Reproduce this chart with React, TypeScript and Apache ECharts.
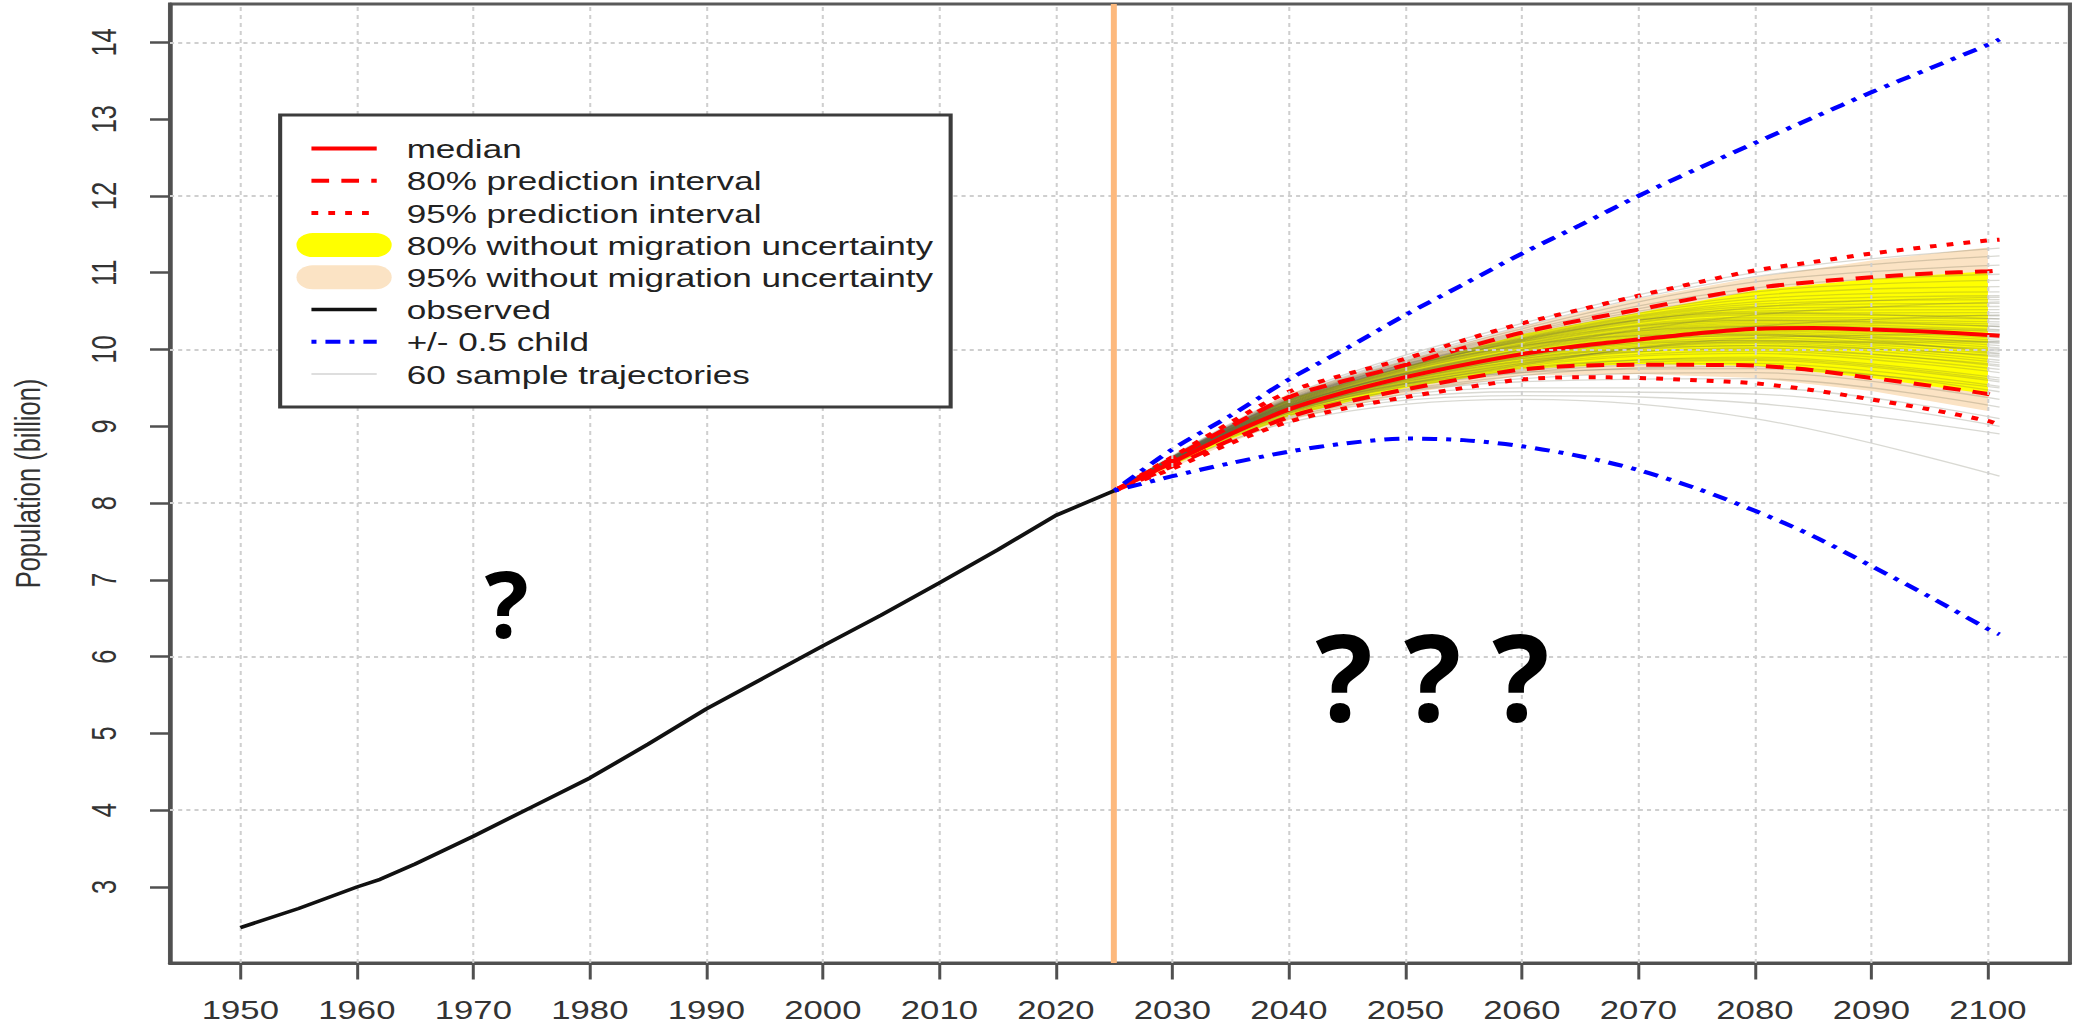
import React, { useEffect, useRef } from "react";
import * as echarts from "echarts";

// ---------- layout constants ----------
const STRETCH = 1.36; // the reference image is stretched horizontally
const PAGE_W = 2075;
const PAGE_H = 1030;
const CHART_W = Math.round(PAGE_W / STRETCH);
const FONT = "Liberation Sans";

// ---------- axes ----------
const X_MIN = 1943.96;
const X_MAX = 2107.04;
const Y_MIN = 2.01;
const Y_MAX = 14.5;
const X_TICKS = [1950, 1960, 1970, 1980, 1990, 2000, 2010, 2020, 2030, 2040, 2050, 2060, 2070, 2080, 2090, 2100];
const Y_TICKS = [3, 4, 5, 6, 7, 8, 9, 10, 11, 12, 13, 14];
const H_GRID = [4, 6, 8, 10, 12, 14];
const SPLIT_YEAR = 2025;

// ---------- observed ----------
const OBS_YEARS = [1950, 1955, 1960, 1962, 1965, 1970, 1975, 1980, 1985, 1990, 1995, 2000, 2005, 2010, 2015, 2020, 2025];
const OBS_VALUES = [2.47, 2.72, 3.0, 3.1, 3.3, 3.66, 4.04, 4.42, 4.86, 5.32, 5.73, 6.14, 6.54, 6.96, 7.39, 7.84, 8.16];

// ---------- projections ----------
const PROJ_YEARS = [2025, 2030, 2035, 2040, 2045, 2050, 2055, 2060, 2065, 2070, 2075, 2080, 2085, 2090, 2095, 2100, 2101];
const MEDIAN = [8.16, 8.53, 8.9, 9.22, 9.45, 9.64, 9.8, 9.94, 10.05, 10.13, 10.21, 10.27, 10.28, 10.26, 10.23, 10.19, 10.18];
const PI80_UP = [8.16, 8.58, 9.0, 9.38, 9.6, 9.8, 10.02, 10.22, 10.38, 10.52, 10.67, 10.8, 10.88, 10.94, 10.99, 11.02, 11.03];
const PI80_LO = [8.16, 8.48, 8.82, 9.12, 9.32, 9.48, 9.62, 9.74, 9.79, 9.8, 9.8, 9.79, 9.73, 9.63, 9.53, 9.42, 9.38];
const PI95_UP = [8.16, 8.6, 9.05, 9.45, 9.68, 9.88, 10.12, 10.34, 10.52, 10.7, 10.87, 11.03, 11.14, 11.25, 11.34, 11.42, 11.43];
const PI95_LO = [8.16, 8.45, 8.78, 9.06, 9.24, 9.38, 9.5, 9.61, 9.64, 9.63, 9.6, 9.56, 9.47, 9.35, 9.22, 9.07, 9.02];
const CHILD_UP = [8.16, 8.7, 9.14, 9.61, 10.02, 10.45, 10.85, 11.25, 11.62, 12.0, 12.35, 12.69, 13.02, 13.35, 13.66, 13.97, 14.04];
const CHILD_LO = [8.16, 8.35, 8.52, 8.67, 8.78, 8.84, 8.82, 8.74, 8.61, 8.43, 8.19, 7.9, 7.57, 7.18, 6.78, 6.36, 6.29];

// bands without migration uncertainty
const BAND_YEARS = [2025, 2030, 2035, 2040, 2050, 2060, 2070, 2080, 2090, 2100];
const Y80_UP = [8.16, 8.57, 8.98, 9.36, 9.78, 10.2, 10.48, 10.77, 10.92, 11.02];
const Y80_LO = [8.16, 8.49, 8.83, 9.13, 9.5, 9.75, 9.81, 9.79, 9.63, 9.42];
const B95_UP = [8.16, 8.59, 9.02, 9.43, 9.86, 10.3, 10.66, 10.94, 11.16, 11.33];
const B95_LO = [8.16, 8.46, 8.79, 9.08, 9.42, 9.66, 9.68, 9.63, 9.46, 9.2];

// 60 sample trajectories: values at 2040, 2060, 2080, 2101 (all start at 2025)
const TRAJ_YEARS = [2025, 2040, 2060, 2080, 2101];
const TRAJ_START = 8.16;
const TRAJECTORIES = [
  [9.05, 9.35, 9.1, 8.35], [9.1, 9.4, 9.3, 8.9], [9.12, 9.45, 9.42, 9.0], [9.14, 9.5, 9.5, 9.1],
  [9.15, 9.58, 9.62, 9.25], [9.17, 9.62, 9.7, 9.35], [9.17, 9.66, 9.78, 9.45], [9.19, 9.7, 9.82, 9.52],
  [9.19, 9.72, 9.86, 9.58], [9.2, 9.74, 9.9, 9.63], [9.2, 9.78, 9.95, 9.7], [9.21, 9.8, 9.98, 9.74],
  [9.21, 9.82, 10.02, 9.78], [9.22, 9.84, 10.05, 9.83], [9.22, 9.86, 10.08, 9.86], [9.23, 9.88, 10.1, 9.9],
  [9.23, 9.9, 10.12, 9.94], [9.24, 9.91, 10.15, 9.98], [9.24, 9.92, 10.18, 10.02], [9.25, 9.94, 10.2, 10.05],
  [9.25, 9.95, 10.22, 10.08], [9.26, 9.96, 10.24, 10.12], [9.26, 9.98, 10.26, 10.15], [9.27, 9.99, 10.28, 10.18],
  [9.27, 10.0, 10.3, 10.2], [9.28, 10.02, 10.32, 10.23], [9.28, 10.03, 10.34, 10.26], [9.29, 10.04, 10.36, 10.3],
  [9.29, 10.06, 10.38, 10.33], [9.3, 10.07, 10.4, 10.36], [9.3, 10.08, 10.42, 10.4], [9.31, 10.1, 10.45, 10.44],
  [9.31, 10.11, 10.47, 10.48], [9.32, 10.12, 10.5, 10.52], [9.32, 10.13, 10.53, 10.56], [9.33, 10.14, 10.56, 10.6],
  [9.33, 10.15, 10.59, 10.65], [9.34, 10.16, 10.62, 10.7], [9.34, 10.18, 10.66, 10.75], [9.35, 10.2, 10.7, 10.82],
  [9.35, 10.22, 10.75, 10.9], [9.36, 10.24, 10.8, 10.98], [9.37, 10.27, 10.88, 11.1], [9.38, 10.3, 10.95, 11.22],
  [9.4, 10.34, 11.0, 11.32], [9.21, 9.76, 9.88, 9.6], [9.24, 9.85, 10.0, 9.8], [9.27, 9.96, 10.18, 10.1],
  [9.29, 10.05, 10.3, 10.25], [9.31, 10.1, 10.38, 10.3], [9.2, 9.9, 10.3, 10.45], [9.33, 10.05, 10.2, 9.95],
  [9.18, 9.8, 10.15, 10.2], [9.26, 10.0, 10.45, 10.62], [9.22, 9.7, 9.75, 9.5], [9.3, 10.12, 10.55, 10.68],
  [9.25, 9.88, 10.05, 9.92], [9.28, 9.93, 10.12, 10.0], [9.34, 10.14, 10.48, 10.4], [9.23, 9.82, 10.1, 10.1],
];

// ---------- legend ----------
const LEGEND_LABELS = [
  "median",
  "80% prediction interval",
  "95% prediction interval",
  "80% without migration uncertainty",
  "95% without migration uncertainty",
  "observed",
  "+/- 0.5 child",
  "60 sample trajectories",
];

// ---------- styles ----------
const RED = "#ff0000";
const BLUE = "#0000ff";
const YELLOW = "#ffff00";
const BEIGE = "#fbe3c4";
const ORANGE = "#fdb97d";
const GRID_COLOR = "#cfcfcf";
const TRAJ_COLOR = "rgba(95,95,70,0.24)";
const DASHED = [13, 9];
const DOTTED = [5, 7.4];
const DOTDASH = [3.7, 6.6, 11, 6.6];

const pairs = (xs: number[], ys: number[]) => xs.map((x, i) => [x, ys[i]]);

function bandSeries(name: string, up: number[], lo: number[], color: string, z: number) {
  return {
    name,
    type: "custom",
    z,
    silent: true,
    clip: true,
    data: [[BAND_YEARS[0], up[0]]],
    renderItem: (_params: any, api: any) => {
      const pts: number[][] = [];
      for (let i = 0; i < BAND_YEARS.length; i++) pts.push(api.coord([BAND_YEARS[i], up[i]]));
      for (let i = BAND_YEARS.length - 1; i >= 0; i--) pts.push(api.coord([BAND_YEARS[i], lo[i]]));
      return { type: "polygon", shape: { points: pts }, style: { fill: color } };
    },
  };
}

function lineSeries(name: string, xs: number[], ys: number[], color: string, width: number, type: any, z: number, smooth: any) {
  return {
    name,
    type: "line",
    z,
    silent: true,
    smooth,
    symbol: "none",
    data: pairs(xs, ys),
    lineStyle: { color, width, type, cap: "butt" },
  };
}

function buildLegend() {
  const L = { x: 206, y: 115, w: 493, h: 292 };
  const row0 = 148.5;
  const dy = 32.2;
  const lx1 = 229;
  const lx2 = 277;
  const els: any[] = [
    { type: "rect", z: 100, shape: { x: L.x, y: L.y, width: L.w, height: L.h }, style: { fill: "#ffffff", stroke: "#3c3c3c", lineWidth: 3 } },
  ];
  const line = (i: number, stroke: string, lineWidth: number, lineDash?: number[]) => ({
    type: "line",
    z: 101,
    shape: { x1: lx1, y1: row0 + i * dy, x2: lx2, y2: row0 + i * dy },
    style: { stroke, lineWidth, lineDash: lineDash || null, lineCap: "butt" },
  });
  const pill = (i: number, fill: string) => ({
    type: "rect",
    z: 101,
    shape: { x: 218, y: row0 + i * dy - 12, width: 70, height: 24, r: 12 },
    style: { fill },
  });
  els.push(line(0, RED, 4));
  els.push(line(1, RED, 4, DASHED));
  els.push(line(2, RED, 4, DOTTED));
  els.push(pill(3, YELLOW));
  els.push(pill(4, BEIGE));
  els.push(line(5, "#111111", 3.5));
  els.push(line(6, BLUE, 4, DOTDASH));
  els.push(line(7, "#d3d3d3", 1.5));
  LEGEND_LABELS.forEach((t, i) => {
    els.push({
      type: "text",
      z: 102,
      x: 299,
      y: row0 + i * dy + 1,
      style: { text: t, fill: "#222222", fontSize: 25.8, fontFamily: FONT, textAlign: "left", textVerticalAlign: "middle" },
    });
  });
  return els;
}

function buildOption() {
  const axisLineStyle = { color: "#505050", width: 3 };
  const labelStyle = { fontSize: 25.5, fontFamily: FONT, color: "#333333" };
  const series: any[] = [];

  // grid lines (dotted light grey)
  series.push({
    name: "grid-v",
    type: "line",
    z: 1,
    silent: true,
    symbol: "none",
    data: [[SPLIT_YEAR, OBS_VALUES[OBS_VALUES.length - 1]]],
    lineStyle: { width: 0 },
    markLine: {
      silent: true,
      symbol: ["none", "none"],
      label: { show: false },
      lineStyle: { color: GRID_COLOR, width: 1.5, type: [4, 4] },
      data: X_TICKS.map((x) => ({ xAxis: x })),
    },
  });
  series.push({
    name: "grid-h",
    type: "line",
    z: 1,
    silent: true,
    symbol: "none",
    data: [[SPLIT_YEAR, OBS_VALUES[OBS_VALUES.length - 1]]],
    lineStyle: { width: 0 },
    markLine: {
      silent: true,
      symbol: ["none", "none"],
      label: { show: false },
      lineStyle: { color: GRID_COLOR, width: 2, type: [3, 3] },
      data: H_GRID.map((y) => ({ yAxis: y })),
    },
  });

  // bands
  series.push(bandSeries("95% without migration uncertainty", B95_UP, B95_LO, BEIGE, 2));
  series.push(bandSeries("80% without migration uncertainty", Y80_UP, Y80_LO, YELLOW, 2));

  // vertical line at the current year
  series.push({
    name: "now",
    type: "line",
    z: 2,
    silent: true,
    symbol: "none",
    data: [[SPLIT_YEAR, OBS_VALUES[OBS_VALUES.length - 1]]],
    lineStyle: { width: 0 },
    markLine: {
      silent: true,
      symbol: ["none", "none"],
      label: { show: false },
      lineStyle: { color: ORANGE, width: 4.4, type: "solid" },
      data: [{ xAxis: SPLIT_YEAR }],
    },
  });

  // sample trajectories
  TRAJECTORIES.forEach((t, k) => {
    series.push(lineSeries("traj" + k, TRAJ_YEARS, [TRAJ_START, ...t], TRAJ_COLOR, 1.3, "solid", 3, 0.35));
  });

  // prediction lines
  series.push(lineSeries("95% prediction interval (upper)", PROJ_YEARS, PI95_UP, RED, 4, DOTTED, 4, 0.3));
  series.push(lineSeries("95% prediction interval (lower)", PROJ_YEARS, PI95_LO, RED, 4, DOTTED, 4, 0.3));
  series.push(lineSeries("80% prediction interval (upper)", PROJ_YEARS, PI80_UP, RED, 4, DASHED, 4, 0.3));
  series.push(lineSeries("80% prediction interval (lower)", PROJ_YEARS, PI80_LO, RED, 4, DASHED, 4, 0.3));
  series.push(lineSeries("median", PROJ_YEARS, MEDIAN, RED, 4, "solid", 4, 0.3));
  series.push(lineSeries("+0.5 child", PROJ_YEARS, CHILD_UP, BLUE, 4, DOTDASH, 5, 0.3));
  series.push(lineSeries("-0.5 child", PROJ_YEARS, CHILD_LO, BLUE, 4, DOTDASH, 5, 0.3));
  series.push(lineSeries("observed", OBS_YEARS, OBS_VALUES, "#111111", 3.5, "solid", 5, false));

  const graphic: any[] = buildLegend();
  graphic.push({
    type: "text",
    z: 110,
    x: 506.6 / STRETCH,
    y: 602,
    scaleX: 1 / STRETCH,
    style: { text: "?", fill: "#000000", fontSize: 92, fontWeight: "bold", fontFamily: "Open Sans", textAlign: "center", textVerticalAlign: "middle" },
  });
  graphic.push({
    type: "text",
    z: 110,
    x: 1432.5 / STRETCH,
    y: 674,
    scaleX: 1 / STRETCH,
    style: { text: "? ? ?", fill: "#000000", fontSize: 120, fontWeight: "bold", fontFamily: "Open Sans", textAlign: "center", textVerticalAlign: "middle" },
  });

  return {
    animation: false,
    backgroundColor: "#ffffff",
    grid: {
      left: 125,
      right: 4,
      top: 4,
      bottom: 67,
      show: true,
      borderColor: "#5a5a5a",
      borderWidth: 3,
      containLabel: false,
      outerBoundsMode: "none",
    },
    xAxis: {
      type: "value",
      min: X_MIN,
      max: X_MAX,
      axisLine: { show: true, onZero: false, lineStyle: axisLineStyle },
      axisTick: { show: true, customValues: X_TICKS, length: 16.5, lineStyle: { color: "#505050", width: 2.2 } },
      axisLabel: { show: true, customValues: X_TICKS, margin: 34, formatter: (v: number) => String(v), ...labelStyle },
      splitLine: { show: false },
      minorSplitLine: { show: false },
    },
    yAxis: {
      type: "value",
      min: Y_MIN,
      max: Y_MAX,
      name: "Population (billion)",
      nameLocation: "middle",
      nameGap: 92,
      nameMoveOverlap: false,
      nameTextStyle: { ...labelStyle },
      axisLine: { show: true, onZero: false, lineStyle: axisLineStyle },
      axisTick: { show: true, customValues: Y_TICKS, length: 14.7, lineStyle: { color: "#505050", width: 2.5 } },
      axisLabel: { show: true, customValues: Y_TICKS, rotate: 90, margin: 36, formatter: (v: number) => String(v), ...labelStyle },
      splitLine: { show: false },
      minorSplitLine: { show: false },
    },
    graphic,
    series,
  };
}

export default function App() {
  const ref = useRef<HTMLDivElement>(null);
  useEffect(() => {
    if (!ref.current) return;
    const chart = echarts.init(ref.current, undefined, { renderer: "svg", width: CHART_W, height: PAGE_H });
    chart.setOption(buildOption() as any);
    return () => chart.dispose();
  }, []);
  return (
    <div style={{ position: "absolute", left: 0, top: 0, width: PAGE_W, height: PAGE_H, overflow: "hidden", background: "#ffffff" }}>
      <div
        ref={ref}
        style={{ width: CHART_W, height: PAGE_H, transform: `scaleX(${STRETCH})`, transformOrigin: "0 0" }}
      />
    </div>
  );
}
